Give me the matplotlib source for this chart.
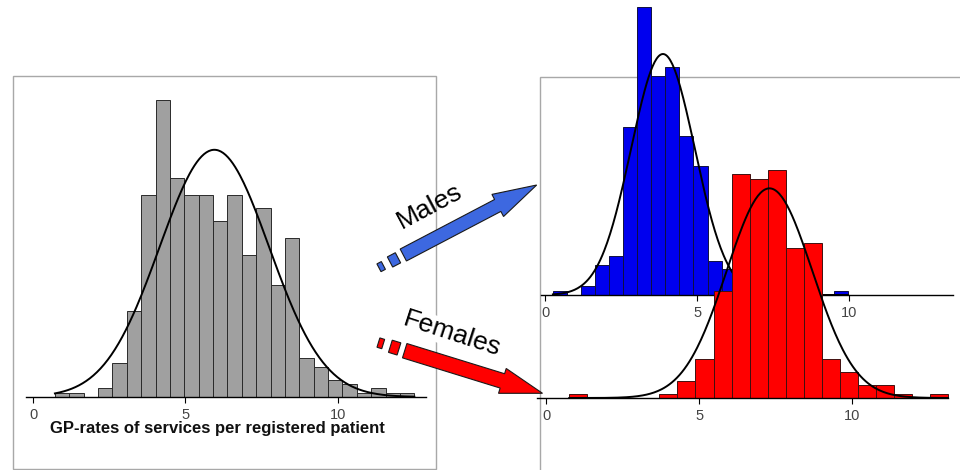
import numpy as np
import matplotlib
matplotlib.use('Agg')
from matplotlib import pyplot as plt
from matplotlib.patches import Rectangle, Polygon

plt.rcParams['font.family'] = ['Liberation Sans', 'DejaVu Sans']

# histogram counts
all_counts = [1, 1, 0, 2, 8, 20, 47, 69, 51, 47, 47, 41, 47, 33, 44, 26, 37, 9, 7, 4, 3, 1, 2, 1, 1]
all_start, all_bw = 0.71, 0.4725
all_mean, all_sd = 5.95, 1.8

male_counts = [1, 0, 2, 7, 9, 39, 67, 51, 53, 37, 30, 8, 6, 4, 2, 1, 1, 0, 0, 0, 1]
male_start, male_bw = 0.25, 0.4624
male_mean, male_sd = 3.87, 1.05

female_counts = [1, 0, 0, 0, 0, 1, 4, 9, 25, 52, 51, 53, 35, 36, 9, 6, 3, 3, 1, 0, 1]
female_start, female_bw = 0.75, 0.590
female_mean, female_sd = 7.3, 1.4

ticks = [0, 5, 10]
xlabel = 'GP-rates of services per registered patient'

W, H = 960, 470
PX_PER_COUNT = 4.3

fig = plt.figure(figsize=(W / 100, H / 100), dpi=100)


def px_axes(x0, x1, top, base, zero_px, unit_px):
    ax = fig.add_axes([x0 / W, (H - base) / H, (x1 - x0) / W, (base - top) / H])
    ax.patch.set_visible(False)
    ax.set_xlim((x0 - zero_px) / unit_px, (x1 - zero_px) / unit_px)
    ax.set_ylim(0, (base - top) / PX_PER_COUNT)
    for s in ['left', 'right', 'top']:
        ax.spines[s].set_visible(False)
    ax.spines['bottom'].set_linewidth(1.0)
    ax.set_yticks([])
    ax.set_xticks(ticks)
    ax.tick_params(axis='x', direction='out', length=4, width=0.8, pad=4,
                   labelsize=10.5, labelcolor='#444444')
    return ax


def draw_hist(ax, counts, start, bw, mean, sd, color, edge):
    counts = np.array(counts, dtype=float)
    edges = start + bw * np.arange(len(counts) + 1)
    ax.bar(edges[:-1], counts, width=bw, align='edge', color=color,
           edgecolor=edge, linewidth=0.7, clip_on=False, zorder=2)
    xs = np.linspace(edges[0], edges[-1], 300)
    ys = counts.sum() * bw / (sd * np.sqrt(2 * np.pi)) * np.exp(-0.5 * ((xs - mean) / sd) ** 2)
    ax.plot(xs, ys, color='black', lw=1.4, clip_on=False, zorder=3)


def to_fig(pts):
    return [(x / W, (H - y) / H) for x, y in pts]


# panel frames
fig.patches.append(Rectangle((12.5 / W, (H - 469) / H), 423 / W, 393 / H,
                             transform=fig.transFigure, fill=False,
                             edgecolor='#a8a8a8', lw=1.0, zorder=-2))
fig.patches.append(Rectangle((540 / W, (H - 480) / H), 430 / W, 403 / H,
                             transform=fig.transFigure, fill=False,
                             edgecolor='#a8a8a8', lw=1.0, zorder=-2))

ax_all = px_axes(26, 426, 80, 397, 33.3, 30.43)
draw_hist(ax_all, all_counts, all_start, all_bw, all_mean, all_sd, '#a0a0a0', '#2a2a2a')

ax_m = px_axes(541, 953, 0, 295, 545.3, 30.4)
draw_hist(ax_m, male_counts, male_start, male_bw, male_mean, male_sd, '#0000ee', '#101040')
ax_m.set_zorder(1)

ax_f = px_axes(537, 948, 150, 398, 546.3, 30.57)
draw_hist(ax_f, female_counts, female_start, female_bw, female_mean, female_sd, '#ff0000', '#401010')
ax_f.set_zorder(2)

fig.text(217 / W, (H - 429) / H, xlabel, ha='center', va='center',
         fontsize=12, fontweight='bold', color='#111111')


def arrow(tail, tip, shaft_w, head_w, head_l, color):
    tail = np.array(tail, float)
    tip = np.array(tip, float)
    u = (tip - tail) / np.linalg.norm(tip - tail)
    n = np.array([-u[1], u[0]])
    base = tip - head_l * u
    pts = [tail + n * shaft_w / 2, base + n * shaft_w / 2, base + n * head_w / 2, tip,
           base - n * head_w / 2, base - n * shaft_w / 2, tail - n * shaft_w / 2]
    fig.patches.append(Polygon(to_fig(pts), closed=True, transform=fig.transFigure,
                               facecolor=color, edgecolor='#1a1a1a', lw=0.8, zorder=5))
    # the two short dashes behind the tail
    for off, ln, wd in [(10.5, 9, shaft_w * 0.85), (25, 5, shaft_w * 0.65)]:
        c = tail - off * u
        a, b = c - u * ln / 2, c + u * ln / 2
        sq = [a + n * wd / 2, b + n * wd / 2, b - n * wd / 2, a - n * wd / 2]
        fig.patches.append(Polygon(to_fig(sq), closed=True, transform=fig.transFigure,
                                   facecolor=color, edgecolor='#1a1a1a', lw=0.8, zorder=5))


arrow((403.3, 255), (536.7, 185), 13.5, 25, 44, '#3d68e0')
arrow((404.7, 350.7), (542.5, 393.3), 15, 26, 42, '#ff0000')

fig.text(430 / W, (H - 206) / H, 'Males', rotation=28, ha='center', va='center',
         fontsize=19, color='#000000', zorder=6, rotation_mode='anchor')
fig.text(452 / W, (H - 334) / H, 'Females', rotation=-18, ha='center', va='center',
         fontsize=19, color='#000000', zorder=6, rotation_mode='anchor',
         bbox=dict(facecolor='white', edgecolor='none', pad=0.5))

fig.savefig('out.png', dpi=100)
